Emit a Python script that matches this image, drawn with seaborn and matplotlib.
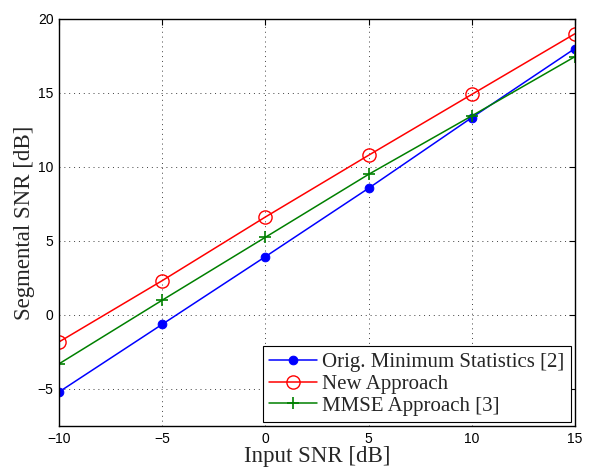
import numpy as np
import pandas as pd
import matplotlib
matplotlib.use("Agg")
import matplotlib.pyplot as plt
import seaborn as sns

sns.set_style("white")
plt.rcParams['font.family'] = ['Liberation Sans', 'DejaVu Sans']

snr_in = [-10, -5, 0, 5, 10, 15]
orig_ms = [-5.2, -0.63, 3.94, 8.56, 13.33, 18.0]
new_approach = [-1.82, 2.32, 6.62, 10.79, 14.9, 19.0]
mmse = [-3.3, 1.0, 5.25, 9.5, 13.45, 17.45]

labels = ['Orig. Minimum Statistics [2]', 'New Approach', 'MMSE Approach [3]']

df = pd.DataFrame({
    'snr': snr_in * 3,
    'seg': orig_ms + new_approach + mmse,
    'method': [labels[0]] * 6 + [labels[1]] * 6 + [labels[2]] * 6,
})

fig = plt.figure(figsize=(5.92, 4.69), dpi=100)
ax = fig.add_axes([0.0997, 0.0917, 0.8713, 0.8678])

styles = {
    labels[0]: dict(color='#0000ff', marker='o', markersize=6.2, markerfacecolor='#0000ff',
                    markeredgecolor='#0000ff'),
    labels[1]: dict(color='#ff0000', marker='o', markersize=9.5, markerfacecolor='none',
                    markeredgecolor='#ff0000', markeredgewidth=1.0),
    labels[2]: dict(color='#008000', marker='+', markersize=8.5, markeredgewidth=1.2,
                    markeredgecolor='#008000'),
}

for lab in labels:
    sub = df[df['method'] == lab]
    sns.lineplot(data=sub, x='snr', y='seg', ax=ax, label=lab, linewidth=1.1, **styles[lab])

ax.set_xlim(-10, 15)
ax.set_ylim(-7.5, 20)
ax.set_xticks([-10, -5, 0, 5, 10, 15])
ax.set_yticks([-5, 0, 5, 10, 15, 20])
ax.set_xticklabels(['\u221210', '\u22125', '0', '5', '10', '15'])
ax.set_yticklabels(['\u22125', '0', '5', '10', '15', '20'])
ax.tick_params(direction='in', top=True, right=True, length=4, width=0.8,
               labelsize=10, colors='black', pad=4)
ax.grid(True, linestyle=(0, (1, 4)), color='#404040', linewidth=0.7)
for s in ax.spines.values():
    s.set_color('black')
    s.set_linewidth(1.0)

ax.set_xlabel('Input SNR [dB]', family='Liberation Serif', fontsize=16.5, labelpad=0)
ax.set_ylabel('Segmental SNR [dB]', family='Liberation Serif', fontsize=16.5, labelpad=2)

leg = ax.legend(loc='lower right', prop={'family': 'Liberation Serif', 'size': 15},
                frameon=True, fancybox=False, edgecolor='black', framealpha=1,
                borderpad=0.3, labelspacing=0.1, handlelength=2.3, handletextpad=0.25,
                borderaxespad=0.2)
leg.get_frame().set_linewidth(0.8)

fig.savefig('out.png', dpi=100)
